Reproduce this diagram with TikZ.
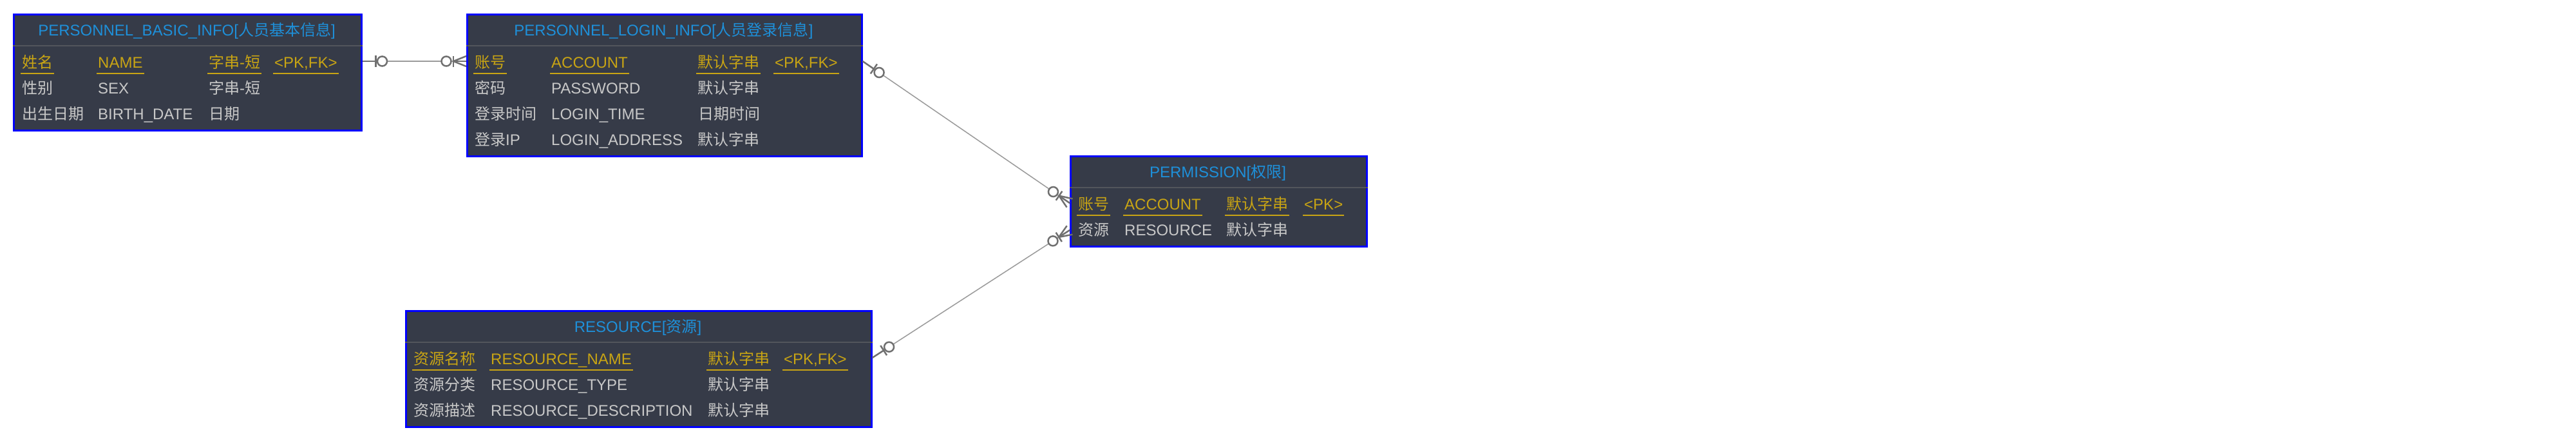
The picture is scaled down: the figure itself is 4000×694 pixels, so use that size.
\documentclass[tikz,border=0pt]{standalone}
\usepackage{fontspec}
\setmainfont{Liberation Sans}
\newfontfamily\cjk{Noto Sans CJK SC}
\usetikzlibrary{calc}
\definecolor{tblbg}{HTML}{363B48}
\definecolor{tblborder}{HTML}{0000FF}
\definecolor{sepgray}{HTML}{52555C}
\definecolor{ttlblue}{HTML}{1E90DA}
\definecolor{keygold}{HTML}{C8A414}
\definecolor{txtgray}{HTML}{C8C8C8}
\definecolor{lnggray}{HTML}{9A9A9A}
\definecolor{symgray}{HTML}{707070}
\tikzset{
  tbl/.style={draw=tblborder, line width=2.5pt, fill=tblbg, inner sep=0pt, anchor=north west},
  ttl/.style={text=ttlblue, anchor=base, inner sep=0pt, font=\fontsize{24pt}{28pt}\selectfont},
  kc/.style={text=keygold, anchor=base west, inner sep=0pt, font=\fontsize{24pt}{28pt}\selectfont},
  nc/.style={text=txtgray, anchor=base west, inner sep=0pt, font=\fontsize{24pt}{28pt}\selectfont},
  uline/.style={draw=keygold, line width=1.8pt},
  sepl/.style={draw=sepgray, line width=2pt},
  rel/.style={draw=lnggray, line width=1.5pt},
  sym/.style={draw=symgray, line width=2.5pt},
}
\newcommand{\keyul}[1]{\draw[uline] ([shift={(-2pt,-8.7pt)}]#1.base west) -- ([shift={(2pt,-8.7pt)}]#1.base east);}
\newcommand{\erone}[2]{%
  \draw[sym] (#1) -- ($(#1)!21pt!(#2)$);
  \draw[sym] ($(#1)!21pt!(#2)!9pt!90:(#2)$) -- ($(#1)!21pt!(#2)!9pt!-90:(#2)$);
  \draw[sym, fill=white] ($(#1)!31pt!(#2)$) circle[radius=7.5pt];
}
\newcommand{\ermany}[2]{%
  \draw[sym] ($(#1)!20pt!(#2)$) -- (#1);
  \draw[sym] ($(#1)!20pt!(#2)$) -- ($(#1)!8pt!90:(#2)$);
  \draw[sym] ($(#1)!20pt!(#2)$) -- ($(#1)!8pt!-90:(#2)$);
  \draw[sym] ($(#1)!20pt!(#2)!8.5pt!90:(#2)$) -- ($(#1)!20pt!(#2)!8.5pt!-90:(#2)$);
  \draw[sym, fill=white] ($(#1)!31pt!(#2)$) circle[radius=7.5pt];
}
\begin{document}
\begin{tikzpicture}[x=1pt, y=-1pt]
\path[fill=white, use as bounding box] (0,0) rectangle (4000,694);

% ---------- Table 1 ----------
\node[tbl, minimum width=540pt, minimum height=180pt] (t1) at (20,21) {};
\draw[sepl] ([yshift=-50pt]t1.north west) -- ([yshift=-50pt]t1.north east);
\node[ttl] (t1t) at (290,55.7) {PERSONNEL\_BASIC\_INFO[{\cjk 人员基本信息}]};
\node[kc] (t1a1) at (34,105) {{\cjk 姓名}};
\node[kc] (t1b1) at (152,105) {NAME};
\node[kc] (t1c1) at (324,105) {{\cjk 字串}-{\cjk 短}};
\node[kc] (t1d1) at (426,105) {<PK,FK>};
\keyul{t1a1}\keyul{t1b1}\keyul{t1c1}\keyul{t1d1}
\node[nc] (t1a2) at (34,145) {{\cjk 性别}};
\node[nc] (t1b2) at (152,145) {SEX};
\node[nc] (t1c2) at (324,145) {{\cjk 字串}-{\cjk 短}};
\node[nc] (t1a3) at (34,185) {{\cjk 出生日期}};
\node[nc] (t1b3) at (152,185) {BIRTH\_DATE};
\node[nc] (t1c3) at (324,185) {{\cjk 日期}};

% ---------- Table 2 ----------
\node[tbl, minimum width=613pt, minimum height=220pt] (t2) at (724,21) {};
\draw[sepl] ([yshift=-50pt]t2.north west) -- ([yshift=-50pt]t2.north east);
\node[ttl] (t2t) at (1030.5,55.7) {PERSONNEL\_LOGIN\_INFO[{\cjk 人员登录信息}]};
\node[kc] (t2a1) at (737,105) {{\cjk 账号}};
\node[kc] (t2b1) at (856,105) {ACCOUNT};
\node[kc] (t2c1) at (1083,105) {{\cjk 默认字串}};
\node[kc] (t2d1) at (1203,105) {<PK,FK>};
\keyul{t2a1}\keyul{t2b1}\keyul{t2c1}\keyul{t2d1}
\node[nc] (t2a2) at (737,145) {{\cjk 密码}};
\node[nc] (t2b2) at (856,145) {PASSWORD};
\node[nc] (t2c2) at (1083,145) {{\cjk 默认字串}};
\node[nc] (t2a3) at (737,185) {{\cjk 登录时间}};
\node[nc] (t2b3) at (856,185) {LOGIN\_TIME};
\node[nc] (t2c3) at (1084,185) {{\cjk 日期时间}};
\node[nc] (t2a4) at (737,225) {{\cjk 登录}IP};
\node[nc] (t2b4) at (856,225) {LOGIN\_ADDRESS};
\node[nc] (t2c4) at (1083,225) {{\cjk 默认字串}};

% ---------- Table 3 ----------
\node[tbl, minimum width=460pt, minimum height=140pt] (t3) at (1661,241) {};
\draw[sepl] ([yshift=-50pt]t3.north west) -- ([yshift=-50pt]t3.north east);
\node[ttl] (t3t) at (1891,275.7) {PERMISSION[{\cjk 权限}]};
\node[kc] (t3a1) at (1674,325) {{\cjk 账号}};
\node[kc] (t3b1) at (1746,325) {ACCOUNT};
\node[kc] (t3c1) at (1904,325) {{\cjk 默认字串}};
\node[kc] (t3d1) at (2025,325) {<PK>};
\keyul{t3a1}\keyul{t3b1}\keyul{t3c1}\keyul{t3d1}
\node[nc] (t3a2) at (1674,365) {{\cjk 资源}};
\node[nc] (t3b2) at (1746,365) {RESOURCE};
\node[nc] (t3c2) at (1904,365) {{\cjk 默认字串}};

% ---------- Table 4 ----------
\node[tbl, minimum width=723pt, minimum height=180pt] (t4) at (629,481) {};
\draw[sepl] ([yshift=-50pt]t4.north west) -- ([yshift=-50pt]t4.north east);
\node[ttl] (t4t) at (990.5,515.7) {RESOURCE[{\cjk 资源}]};
\node[kc] (t4a1) at (642,565) {{\cjk 资源名称}};
\node[kc] (t4b1) at (762,565) {RESOURCE\_NAME};
\node[kc] (t4c1) at (1099,565) {{\cjk 默认字串}};
\node[kc] (t4d1) at (1217,565) {<PK,FK>};
\keyul{t4a1}\keyul{t4b1}\keyul{t4c1}\keyul{t4d1}
\node[nc] (t4a2) at (642,605) {{\cjk 资源分类}};
\node[nc] (t4b2) at (762,605) {RESOURCE\_TYPE};
\node[nc] (t4c2) at (1099,605) {{\cjk 默认字串}};
\node[nc] (t4a3) at (642,645) {{\cjk 资源描述}};
\node[nc] (t4b3) at (762,645) {RESOURCE\_DESCRIPTION};
\node[nc] (t4c3) at (1099,645) {{\cjk 默认字串}};

% ---------- connection points ----------
\coordinate (c1s) at ([yshift=-74pt]t1.north east);
\coordinate (c1e) at ([yshift=-74pt]t2.north west);
\coordinate (c2s) at ([yshift=-74pt]t2.north east);
\coordinate (c2e) at ([yshift=-74pt]t3.north west);
\coordinate (c3s) at ([yshift=-74pt]t4.north east);
\coordinate (c3e) at ([yshift=-116pt]t3.north west);

% ---------- connectors ----------
\draw[rel] (c1s) -- (c1e);
\draw[rel] (c2s) -- (c2e);
\draw[rel] (c3s) -- (c3e);
\erone{c1s}{c1e}\ermany{c1e}{c1s}
\erone{c2s}{c2e}\ermany{c2e}{c2s}
\erone{c3s}{c3e}\ermany{c3e}{c3s}
\end{tikzpicture}
\end{document}
